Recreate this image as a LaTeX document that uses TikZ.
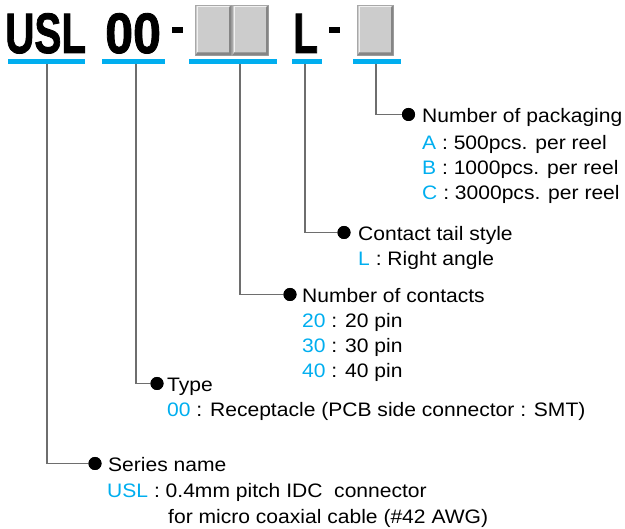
\documentclass[tikz,border=0pt]{standalone}
\usepackage{fontspec}
\setmainfont{Liberation Sans}[FakeStretch=1.08]
\newfontfamily\hdrfont{Liberation Sans}[BoldFeatures={FakeBold=1.6}]
\definecolor{cyanbar}{HTML}{00AEEF}
\definecolor{conngray}{HTML}{6E6E6E}
\definecolor{boxmid}{HTML}{CCCCCC}
\definecolor{boxdark}{HTML}{858585}
\definecolor{boxlight}{HTML}{F0F0F0}
\definecolor{boxedge}{HTML}{A8A8A8}
\begin{document}
\begin{tikzpicture}[x=1pt,y=-1pt,
  lbl/.style={anchor=base west, inner sep=0pt, font=\fontsize{19.5}{19.5}\selectfont},
  hdr/.style={anchor=base west, inner sep=0pt, font=\hdrfont\bfseries\fontsize{57}{57}\selectfont},
  bdot/.style={circle, fill=black, minimum size=13pt, inner sep=0pt},
  cbar/.style={fill=cyanbar, inner sep=0pt, minimum height=5pt, anchor=north west},
  conn/.style={draw=conngray, line width=1.2pt},
  gbox/.style={fill=boxmid, draw=boxedge, line width=0.8pt, inner sep=0pt, minimum width=36pt, minimum height=50pt, anchor=north west},
  hy/.style={fill=black, inner sep=0pt, minimum width=11pt, minimum height=6pt},
  cy/.style={text=cyanbar}
]
\useasboundingbox (0,0) rectangle (625,529);

% header
\node[hdr] (usl) at (5,53) {\scalebox{0.71}[1]{USL}};
\node[hdr] (oo) at (105,53) {\scalebox{0.88}[1]{00}};
\node[hy] (h1) at (177.5,30) {};
\node[gbox] (g1) at (195,5) {};
\node[gbox] (g2) at (232,5) {};
\node[hdr] (ll) at (293,53) {\scalebox{0.71}[1]{L}};
\node[hy] (h2) at (334,30) {};
\node[gbox] (g3) at (357,5) {};

% bevels on grey boxes
\foreach \g in {g1,g2,g3}{
  \fill[boxdark] ([xshift=0.4pt,yshift=0.4pt]\g.south west) -- ([xshift=-0.4pt,yshift=0.4pt]\g.south east) -- ([xshift=-0.4pt,yshift=-0.4pt]\g.north east) -- ([xshift=-2.6pt,yshift=-2.4pt]\g.north east) -- ([xshift=-2.6pt,yshift=3.4pt]\g.south east) -- ([xshift=2.4pt,yshift=3.4pt]\g.south west) -- cycle;
  \draw[boxlight, line width=1pt] ([xshift=2pt,yshift=3.6pt]\g.south west) -- ([xshift=2pt,yshift=-2pt]\g.north west) -- ([xshift=-3pt,yshift=-2pt]\g.north east);
}

% cyan bars
\node[cbar, minimum width=77pt] (b1) at (8,59) {};
\node[cbar, minimum width=63pt] (b2) at (102,59) {};
\node[cbar, minimum width=88pt] (b3) at (189,59) {};
\node[cbar, minimum width=30pt] (b4) at (292,59) {};
\node[cbar, minimum width=48pt] (b5) at (353,59) {};

\coordinate (t1) at (47,64);
\coordinate (t2) at (136,64);
\coordinate (t3) at (240,64);
\coordinate (t4) at (305,64);
\coordinate (t5) at (376,64);

% dots
\node[bdot] (d5) at (408.5,114.5) {};
\node[bdot] (d4) at (344,232.5) {};
\node[bdot] (d3) at (290,294.5) {};
\node[bdot] (d2) at (157,383.5) {};
\node[bdot] (d1) at (95,463.5) {};

\draw[conn] (t5) |- (d5.center);
\draw[conn] (t4) |- (d4.center);
\draw[conn] (t3) |- (d3.center);
\draw[conn] (t2) |- (d2.center);
\draw[conn] (t1) |- (d1.center);
\foreach \d in {d1,d2,d3,d4,d5}{\fill (\d) circle (6.5pt);}

% packaging
\node[lbl] (p0) at (422,123) {Number of packaging};
\node[lbl] (p1) at (422,150) {\textcolor{cyanbar}{A} : 500pcs. per reel};
\node[lbl] (p2) at (422,175) {\textcolor{cyanbar}{B} : 1000pcs. per reel};
\node[lbl] (p3) at (422,200) {\textcolor{cyanbar}{C} : 3000pcs. per reel};

% tail
\node[lbl] (s0) at (358,241) {Contact tail style};
\node[lbl] (s1) at (358,266) {\textcolor{cyanbar}{L} : Right angle};

% contacts
\node[lbl] (c0) at (302,303) {Number of contacts};
\node[lbl] (c1) at (302,328) {\textcolor{cyanbar}{20} : 20 pin};
\node[lbl] (c2) at (302,353) {\textcolor{cyanbar}{30} : 30 pin};
\node[lbl] (c3) at (302,378) {\textcolor{cyanbar}{40} : 40 pin};

% type
\node[lbl] (y0) at (167,392) {Type};
\node[lbl] (y1) at (167,417) {\textcolor{cyanbar}{00} : Receptacle (PCB side connector : SMT)};

% series
\node[lbl] (n0) at (108,472) {Series name};
\node[lbl] (n1) at (107,498) {\textcolor{cyanbar}{USL} : 0.4mm pitch IDC\ \ connector};
\node[lbl] (n2) at (168,524) {for micro coaxial cable (\#42 AWG)};
\end{tikzpicture}
\end{document}
